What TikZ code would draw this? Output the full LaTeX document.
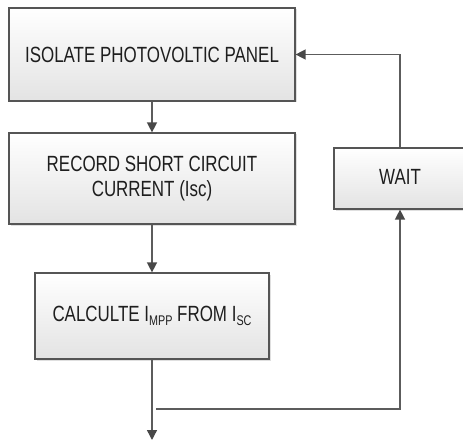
\documentclass[tikz,border=0pt]{standalone}
\usepackage{fontspec}
\newfontfamily\nar[FakeStretch=0.77]{Liberation Sans}
\usetikzlibrary{shadows,arrows.meta}
\definecolor{edgegray}{HTML}{555555}
\definecolor{linegray}{HTML}{5C5C5C}
\definecolor{tipgray}{HTML}{484848}
\definecolor{txt}{HTML}{1E1E1E}
\newcommand\mysub[1]{\raisebox{-4.5pt}{\fontsize{14}{14}\selectfont #1}}
\tikzset{
  flowbox/.style={draw=edgegray, line width=1.2pt, top color=white, bottom color=black!11,
    drop shadow={opacity=0.25, shadow xshift=1.5pt, shadow yshift=-1.5pt},
    align=center, inner sep=0pt, text=txt,
    font=\nar\fontsize{22}{25}\selectfont},
  conn/.style={draw=linegray, line width=1.4pt},
  tip/.style={-{Triangle[length=10pt,width=10pt,fill=tipgray,color=tipgray]}}
}
\begin{document}
\begin{tikzpicture}[x=1pt,y=-1pt]
\useasboundingbox (0,0) rectangle (463,441);
\clip (0,0) rectangle (463,441);
\node[flowbox, minimum width=286pt, minimum height=93pt] (b1) at (152,54.5) {ISOLATE PHOTOVOLTIC PANEL};
\node[flowbox, minimum width=286pt, minimum height=91pt] (b2) at (152,178.5) {RECORD SHORT CIRCUIT\\CURRENT (Isc)};
\node[flowbox, minimum width=234pt, minimum height=86pt] (b3) at (152,316) {CALCULTE I\mysub{MPP} FROM I\mysub{SC}};
\node[flowbox, minimum width=132pt, minimum height=61pt] (w) at (400,178.5) {\raisebox{3pt}{WAIT}};
\coordinate (end) at (152,440);
\coordinate (j) at (156,409);
\draw[conn, tip] (b1.south) -- (b2.north);
\draw[conn, tip] (b2.south) -- (b3.north);
\draw[conn, tip] (b3.south) -- (end);
\draw[conn, tip] (j) -| (w.south);
\draw[conn, tip] (w.north) |- (b1.east);
\end{tikzpicture}
\end{document}
